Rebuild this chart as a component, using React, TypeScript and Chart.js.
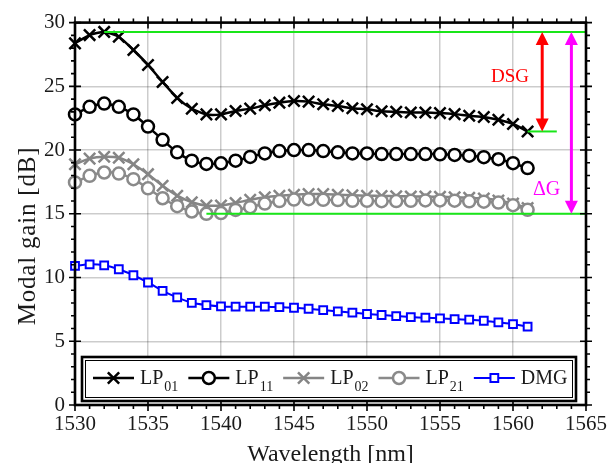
import React, { useEffect, useRef } from 'react';
import { Chart, registerables } from 'chart.js';

Chart.register(...registerables);

// ---------------- data ----------------
const wavelength = [
  1530, 1531, 1532, 1533, 1534, 1535, 1536, 1537, 1538, 1539, 1540,
  1541, 1542, 1543, 1544, 1545, 1546, 1547, 1548, 1549, 1550,
  1551, 1552, 1553, 1554, 1555, 1556, 1557, 1558, 1559, 1560, 1561,
];
const lp01 = [
  28.37, 29.02, 29.27, 28.89, 27.85, 26.68, 25.34, 24.09, 23.24, 22.8, 22.8,
  23.06, 23.25, 23.51, 23.72, 23.85, 23.8, 23.59, 23.46, 23.28, 23.2,
  23.05, 23.0, 22.95, 22.95, 22.9, 22.82, 22.69, 22.6, 22.38, 22.05, 21.46,
];
const lp11 = [
  22.8, 23.39, 23.65, 23.39, 22.8, 21.84, 20.8, 19.82, 19.17, 18.91, 18.96,
  19.17, 19.46, 19.74, 19.92, 20.0, 20.0, 19.92, 19.82, 19.74, 19.74,
  19.69, 19.69, 19.69, 19.69, 19.67, 19.62, 19.56, 19.44, 19.28, 18.97, 18.59,
];
const lp02 = [
  18.89, 19.33, 19.48, 19.4, 18.89, 18.11, 17.2, 16.42, 15.91, 15.65, 15.65,
  15.85, 16.1, 16.3, 16.42, 16.5, 16.55, 16.55, 16.5, 16.45, 16.42,
  16.4, 16.38, 16.36, 16.35, 16.33, 16.3, 16.25, 16.2, 16.05, 15.8, 15.45,
];
const lp21 = [
  17.46, 17.98, 18.24, 18.16, 17.72, 17.0, 16.22, 15.6, 15.18, 15.0, 15.06,
  15.3, 15.52, 15.8, 16.0, 16.12, 16.15, 16.1, 16.08, 16.02, 16.02,
  15.99, 16.0, 16.02, 16.05, 16.05, 16.03, 15.98, 15.95, 15.88, 15.68, 15.31,
];
const dmg = [
  10.91, 11.04, 10.96, 10.65, 10.18, 9.61, 8.96, 8.44, 8.02, 7.84, 7.73,
  7.71, 7.71, 7.71, 7.68, 7.63, 7.55, 7.45, 7.34, 7.24, 7.14,
  7.06, 6.98, 6.9, 6.85, 6.8, 6.74, 6.69, 6.61, 6.48, 6.35, 6.15,
];

const seriesLabels = ['LP01', 'LP11', 'LP02', 'LP21', 'DMG'];
const legendMain = ['LP', 'LP', 'LP', 'LP', 'DMG'];
const legendSub = ['01', '11', '02', '21', ''];

const xTickValues = [1530, 1535, 1540, 1545, 1550, 1555, 1560, 1565];
const yTickValues = [0, 5, 10, 15, 20, 25, 30];
const X_MIN = 1530;
const X_MAX = 1565;
const Y_MIN = 0;
const Y_MAX = 30;

const xTitle = 'Wavelength [nm]';
const yTitle = 'Modal gain [dB]';

// annotation values (data units)
const maxGain = 29.27;
const lp01End = 21.46;
const minGain = 15.0;
const topLineStart = 1532;
const bottomLineStart = 1539;
const dsgLineStart = 1561;
const dsgLineEnd = 1563;
const dsgArrowX = 1562;
const deltaArrowX = 1564;
const dsgLabel = 'DSG';
const dsgLabelX = 1559.8;
const dsgLabelY = 25.7;
const deltaLabel = 'ΔG';
const deltaLabelX = 1562.3;
const deltaLabelY = 16.9;

const SERIF = "'Liberation Serif', 'Times New Roman', serif";

// ---------------- helpers ----------------
function drawMarker(ctx: CanvasRenderingContext2D, style: string, cx: number, cy: number, r: number, color: string, bw: number) {
  ctx.save();
  ctx.strokeStyle = color;
  ctx.lineWidth = bw;
  ctx.fillStyle = '#ffffff';
  if (style === 'crossRot') {
    const d = r * Math.SQRT1_2;
    ctx.beginPath();
    ctx.moveTo(cx - d, cy - d);
    ctx.lineTo(cx + d, cy + d);
    ctx.moveTo(cx - d, cy + d);
    ctx.lineTo(cx + d, cy - d);
    ctx.stroke();
  } else if (style === 'circle') {
    ctx.beginPath();
    ctx.arc(cx, cy, r, 0, Math.PI * 2);
    ctx.fill();
    ctx.stroke();
  } else {
    const s = r * Math.SQRT1_2;
    ctx.beginPath();
    ctx.rect(cx - s, cy - s, 2 * s, 2 * s);
    ctx.fill();
    ctx.stroke();
  }
  ctx.restore();
}

function drawArrow(ctx: CanvasRenderingContext2D, x: number, yTop: number, yBot: number, color: string) {
  const head = 13;
  const half = 6.5;
  ctx.save();
  ctx.strokeStyle = color;
  ctx.fillStyle = color;
  ctx.lineWidth = 3;
  ctx.beginPath();
  ctx.moveTo(x, yTop + head - 1);
  ctx.lineTo(x, yBot - head + 1);
  ctx.stroke();
  ctx.beginPath();
  ctx.moveTo(x, yTop);
  ctx.lineTo(x - half, yTop + head);
  ctx.lineTo(x + half, yTop + head);
  ctx.closePath();
  ctx.fill();
  ctx.beginPath();
  ctx.moveTo(x, yBot);
  ctx.lineTo(x - half, yBot - head);
  ctx.lineTo(x + half, yBot - head);
  ctx.closePath();
  ctx.fill();
  ctx.restore();
}

const annotationPlugin = {
  id: 'annotations',
  afterDatasetsDraw(chart: any) {
    const { ctx, scales } = chart;
    const x = scales.x;
    const y = scales.y;
    ctx.save();
    ctx.strokeStyle = '#19e619';
    ctx.lineWidth = 2;
    const hline = (v: number, a: number, b: number) => {
      ctx.beginPath();
      ctx.moveTo(x.getPixelForValue(a), y.getPixelForValue(v));
      ctx.lineTo(x.getPixelForValue(b), y.getPixelForValue(v));
      ctx.stroke();
    };
    hline(maxGain, topLineStart, X_MAX);
    hline(lp01End, dsgLineStart, dsgLineEnd);
    hline(minGain, bottomLineStart, X_MAX);
    drawArrow(ctx, x.getPixelForValue(dsgArrowX), y.getPixelForValue(maxGain), y.getPixelForValue(lp01End), '#ff0000');
    drawArrow(ctx, x.getPixelForValue(deltaArrowX), y.getPixelForValue(maxGain), y.getPixelForValue(minGain), '#ff00ff');
    ctx.textAlign = 'center';
    ctx.textBaseline = 'middle';
    ctx.font = `19px ${SERIF}`;
    ctx.fillStyle = '#ff0000';
    ctx.fillText(dsgLabel, x.getPixelForValue(dsgLabelX), y.getPixelForValue(dsgLabelY));
    ctx.fillStyle = '#ff00ff';
    ctx.font = `20px ${SERIF}`;
    ctx.fillText(deltaLabel, x.getPixelForValue(deltaLabelX), y.getPixelForValue(deltaLabelY));
    ctx.restore();
  },
};

const framePlugin = {
  id: 'frame',
  afterDraw(chart: any) {
    const { ctx, chartArea: a, scales } = chart;
    const x = scales.x;
    const y = scales.y;
    ctx.save();
    ctx.strokeStyle = '#000';
    ctx.lineWidth = 1.6;
    ctx.beginPath();
    for (let v = X_MIN; v <= X_MAX; v += 1) {
      const px = x.getPixelForValue(v);
      const major = v % 5 === 0;
      ctx.moveTo(px, a.bottom - (major ? 6 : 0));
      ctx.lineTo(px, a.bottom + (major ? 6 : 4));
      ctx.moveTo(px, a.top + (major ? 6 : 0));
      ctx.lineTo(px, a.top - (major ? 6 : 4));
    }
    for (let v = Y_MIN; v <= Y_MAX; v += 1) {
      const py = y.getPixelForValue(v);
      const major = v % 5 === 0;
      ctx.moveTo(a.left + (major ? 6 : 0), py);
      ctx.lineTo(a.left - (major ? 6 : 4), py);
      ctx.moveTo(a.right - (major ? 6 : 0), py);
      ctx.lineTo(a.right + (major ? 6 : 4), py);
    }
    ctx.stroke();
    ctx.lineWidth = 2.6;
    ctx.strokeRect(a.left, a.top, a.right - a.left, a.bottom - a.top);

    // y title
    ctx.save();
    ctx.translate(28, 236);
    ctx.rotate(-Math.PI / 2);
    ctx.font = `25px ${SERIF}`;
    ctx.fillStyle = '#1a1a1a';
    ctx.textAlign = 'center';
    ctx.textBaseline = 'middle';
    try { (ctx as any).letterSpacing = '0.8px'; } catch (e) { /* ignore */ }
    ctx.fillText(yTitle, 0, 0);
    ctx.restore();

    // legend
    const left = a.left + 7;
    const right = a.right - 10;
    const top = a.bottom - 48;
    const bottom = a.bottom - 4;
    ctx.fillStyle = '#ffffff';
    ctx.fillRect(left, top, right - left, bottom - top);
    ctx.lineWidth = 2.6;
    ctx.strokeStyle = '#000';
    ctx.strokeRect(left, top, right - left, bottom - top);
    ctx.lineWidth = 1;
    ctx.strokeRect(left + 3.5, top + 3.5, right - left - 7, bottom - top - 7);

    const lineY = top + 21;
    const baseY = top + 27;
    let cx = left + 11;
    chart.data.datasets.forEach((ds: any, i: number) => {
      ctx.strokeStyle = ds.borderColor;
      ctx.lineWidth = ds.borderWidth;
      ctx.beginPath();
      ctx.moveTo(cx, lineY);
      ctx.lineTo(cx + 41, lineY);
      ctx.stroke();
      drawMarker(ctx, ds.pointStyle, cx + 20.5, lineY, ds.pointRadius, ds.borderColor, ds.pointBorderWidth);
      cx += 47;
      ctx.fillStyle = '#1a1a1a';
      ctx.textAlign = 'left';
      ctx.textBaseline = 'alphabetic';
      ctx.font = `20px ${SERIF}`;
      ctx.fillText(legendMain[i], cx, baseY);
      cx += ctx.measureText(legendMain[i]).width;
      if (legendSub[i]) {
        ctx.font = `14px ${SERIF}`;
        ctx.fillText(legendSub[i], cx + 1, baseY + 7);
        cx += ctx.measureText(legendSub[i]).width + 1;
      }
      cx += 10;
    });
    ctx.restore();
  },
};

function makeDataset(label: string, values: number[], color: string, style: string, radius: number, order: number, lineWidth: number, pbw: number) {
  return {
    label,
    data: wavelength.map((w, i) => ({ x: w, y: values[i] })),
    borderColor: color,
    backgroundColor: '#ffffff',
    pointBackgroundColor: '#ffffff',
    pointBorderColor: color,
    borderWidth: lineWidth,
    pointStyle: style,
    pointRadius: radius,
    pointBorderWidth: pbw,
    tension: 0.2,
    clip: false,
    order,
  };
}

export default function App() {
  const canvasRef = useRef<HTMLCanvasElement | null>(null);

  useEffect(() => {
    if (!canvasRef.current) return;
    const chart = new Chart(canvasRef.current, {
      type: 'line',
      data: {
        datasets: [
          makeDataset(seriesLabels[0], lp01, '#000000', 'crossRot', 8, 4, 2.5, 2.5),
          makeDataset(seriesLabels[1], lp11, '#000000', 'circle', 6, 3, 2.5, 2.5),
          makeDataset(seriesLabels[2], lp02, '#858585', 'crossRot', 8, 2, 2.5, 2.5),
          makeDataset(seriesLabels[3], lp21, '#8a8a8a', 'circle', 6, 1, 2.5, 2.5),
          makeDataset(seriesLabels[4], dmg, '#0000ff', 'rect', 5.5, 0, 2, 2),
        ] as any,
      },
      options: {
        animation: false,
        responsive: true,
        maintainAspectRatio: false,
        layout: { padding: { top: 17, right: 22, left: 0, bottom: 0 } },
        plugins: {
          legend: { display: false },
          tooltip: { enabled: false },
        },
        scales: {
          x: {
            type: 'linear',
            min: X_MIN,
            max: X_MAX,
            afterBuildTicks: (s: any) => { s.ticks = xTickValues.map((v) => ({ value: v })); },
            afterFit: (s: any) => { s.height = 58; },
            ticks: {
              maxRotation: 0,
              autoSkip: false,
              padding: 7,
              color: '#1a1a1a',
              font: { family: SERIF, size: 21 },
              callback: (v: any) => String(v),
            },
            grid: { color: 'rgba(0,0,0,0.2)', lineWidth: 1.5, drawTicks: false },
            border: { display: false },
            title: {
              display: true,
              text: xTitle,
              color: '#1a1a1a',
              font: { family: SERIF, size: 24, lineHeight: 1 },
              padding: { top: 0, bottom: -4 },
            },
          },
          y: {
            type: 'linear',
            min: Y_MIN,
            max: Y_MAX,
            afterBuildTicks: (s: any) => { s.ticks = yTickValues.map((v) => ({ value: v })); },
            afterFit: (s: any) => { s.width = 75; },
            ticks: {
              padding: 10,
              color: '#1a1a1a',
              font: { family: SERIF, size: 21 },
              callback: (v: any) => String(v),
            },
            grid: { color: 'rgba(0,0,0,0.2)', lineWidth: 1.5, drawTicks: false },
            border: { display: false },
          },
        },
      } as any,
      plugins: [annotationPlugin, framePlugin],
    });
    return () => chart.destroy();
  }, []);

  return (
    <div style={{ position: 'fixed', left: 0, top: 0, width: 614, height: 463, background: '#fff' }}>
      <canvas ref={canvasRef} />
    </div>
  );
}
